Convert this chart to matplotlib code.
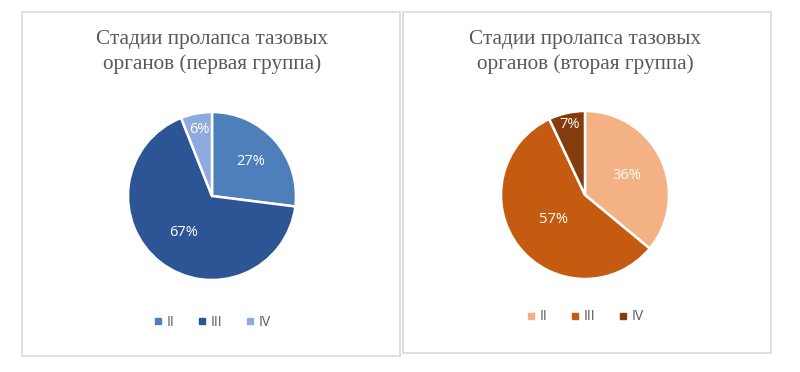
import matplotlib.pyplot as plt
from matplotlib.patches import Rectangle
from matplotlib.lines import Line2D
import numpy as np

# данные
stages = ['II', 'III', 'IV']
group1 = [27, 67, 6]
group2 = [36, 57, 7]
titles = ['Стадии пролапса тазовых\nорганов (первая группа)',
          'Стадии пролапса тазовых\nорганов (вторая группа)']
colors1 = ['#4F7FBB', '#2D5495', '#8FAADC']
colors2 = ['#F4B183', '#C55A11', '#843C0C']

W, H = 800, 372
fig = plt.figure(figsize=(8, 3.72), dpi=100)

def px(x, y, w, h):
    # пиксели -> доли фигуры (y сверху)
    return [x / W, 1 - (y + h) / H, w / W, h / H]

# рамки панелей
for (x0, y0, x1, y1) in [(22, 12, 400, 356), (403, 12, 771, 353)]:
    fig.patches.append(Rectangle((x0 / W, 1 - y1 / H), (x1 - x0) / W, (y1 - y0) / H,
                                 transform=fig.transFigure, fill=False,
                                 edgecolor='#d9d9d9', linewidth=1.2))

def draw_pie(cx, cy, r, values, colors, title, dists, legend_y):
    ax = fig.add_axes(px(cx - r, cy - r, 2 * r, 2 * r))
    wedges, _ = ax.pie(values, colors=colors, startangle=90, counterclock=False,
                       radius=1, wedgeprops=dict(edgecolor='white', linewidth=1.8))
    ax.set_xlim(-1, 1)
    ax.set_ylim(-1, 1)
    for w, v, d in zip(wedges, values, dists):
        ang = np.deg2rad((w.theta1 + w.theta2) / 2)
        ax.text(d * np.cos(ang), d * np.sin(ang), f'{v}%', color='white',
                fontsize=10.5, family='Open Sans', ha='center', va='center')
    fig.text(cx / W, 1 - 52 / H, title, ha='center', va='center',
             family='Liberation Serif', fontsize=15.3, color='#595959',
             linespacing=1.4)
    handles = [Line2D([], [], marker='s', linestyle='none', markersize=5,
                      markerfacecolor=c, markeredgecolor=c) for c in colors]
    fig.legend(handles, stages, loc='center', bbox_to_anchor=(cx / W, 1 - legend_y / H),
               ncol=3, frameon=False, handlelength=0.7, handletextpad=0.3,
               columnspacing=1.6, prop=dict(family='Open Sans', size=10),
               labelcolor='#595959')

draw_pie(212, 196, 84, group1, colors1, titles[0], [0.62, 0.55, 0.8], 322)
draw_pie(585, 195, 84, group2, colors2, titles[1], [0.55, 0.48, 0.86], 317)

fig.savefig('out.png', dpi=100)
